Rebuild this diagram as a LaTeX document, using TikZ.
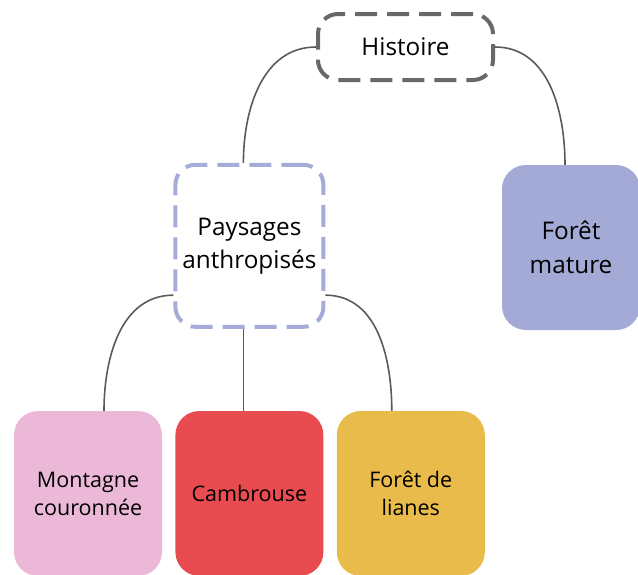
\documentclass[tikz,border=0pt]{standalone}
\usepackage{fontspec}
\setmainfont{Open Sans}
\usepackage{tikz}
\usetikzlibrary{positioning}

\definecolor{rosemont}{HTML}{EBB9D7}
\definecolor{rougecamb}{HTML}{E84C51}
\definecolor{jaunelian}{HTML}{E9BB4A}
\definecolor{mauvemat}{HTML}{A4AAD6}
\definecolor{bleudash}{HTML}{A5ACD8}
\definecolor{grisdash}{HTML}{686868}
\definecolor{grislien}{HTML}{5A5A5A}

\tikzset{
    lien/.style={draw=grislien, line width=1.6pt},
    cadre/.style={line width=4pt, dash pattern=on 22pt off 10pt, rounded corners=20pt, align=center, font=\fontsize{24.3}{33}\selectfont},
    feuille/.style={rounded corners=24pt, minimum width=148pt, minimum height=165pt, align=center, inner sep=0pt, font=\fontsize{21.5}{28}\selectfont}
}

\begin{document}
\begin{tikzpicture}[x=1pt, y=-1pt]
    \path[use as bounding box, clip] (0,0) rectangle (638,574);

    \node [cadre, draw=grisdash, minimum width=175pt, minimum height=66pt] (hist) at (405.5,47) {Histoire};

    \node [feuille, fill=rosemont] (mont) at (88,493.5) {Montagne\\couronnée};
    \node [feuille, fill=rougecamb, right=13pt of mont] (camb) {Cambrouse};
    \node [feuille, fill=jaunelian, right=13pt of camb] (lian) {Forêt de\\lianes};

    \node [cadre, draw=bleudash, minimum width=148pt, minimum height=162pt, above=82pt of camb] (pays) {Paysages\\anthropisés};

    \node [feuille, fill=mauvemat, minimum width=138pt, font=\fontsize{24.3}{34}\selectfont] (mat) at (571,247.5) {Forêt\\mature};

    % liens
    \draw [lien] (hist.west) to[out=180, in=90] ([xshift=-6pt]pays.north);
    \draw [lien] (hist.east) to[out=0, in=90] ([xshift=-6pt]mat.north);
    \draw [lien] (pays.213) to[out=180, in=90] ([xshift=16pt]mont.north);
    \draw [lien] ([xshift=-6pt]pays.south) -- ([xshift=-6pt]camb.north);
    \draw [lien] (pays.327) to[out=0, in=90] ([xshift=-19pt]lian.north);

\end{tikzpicture}
\end{document}
